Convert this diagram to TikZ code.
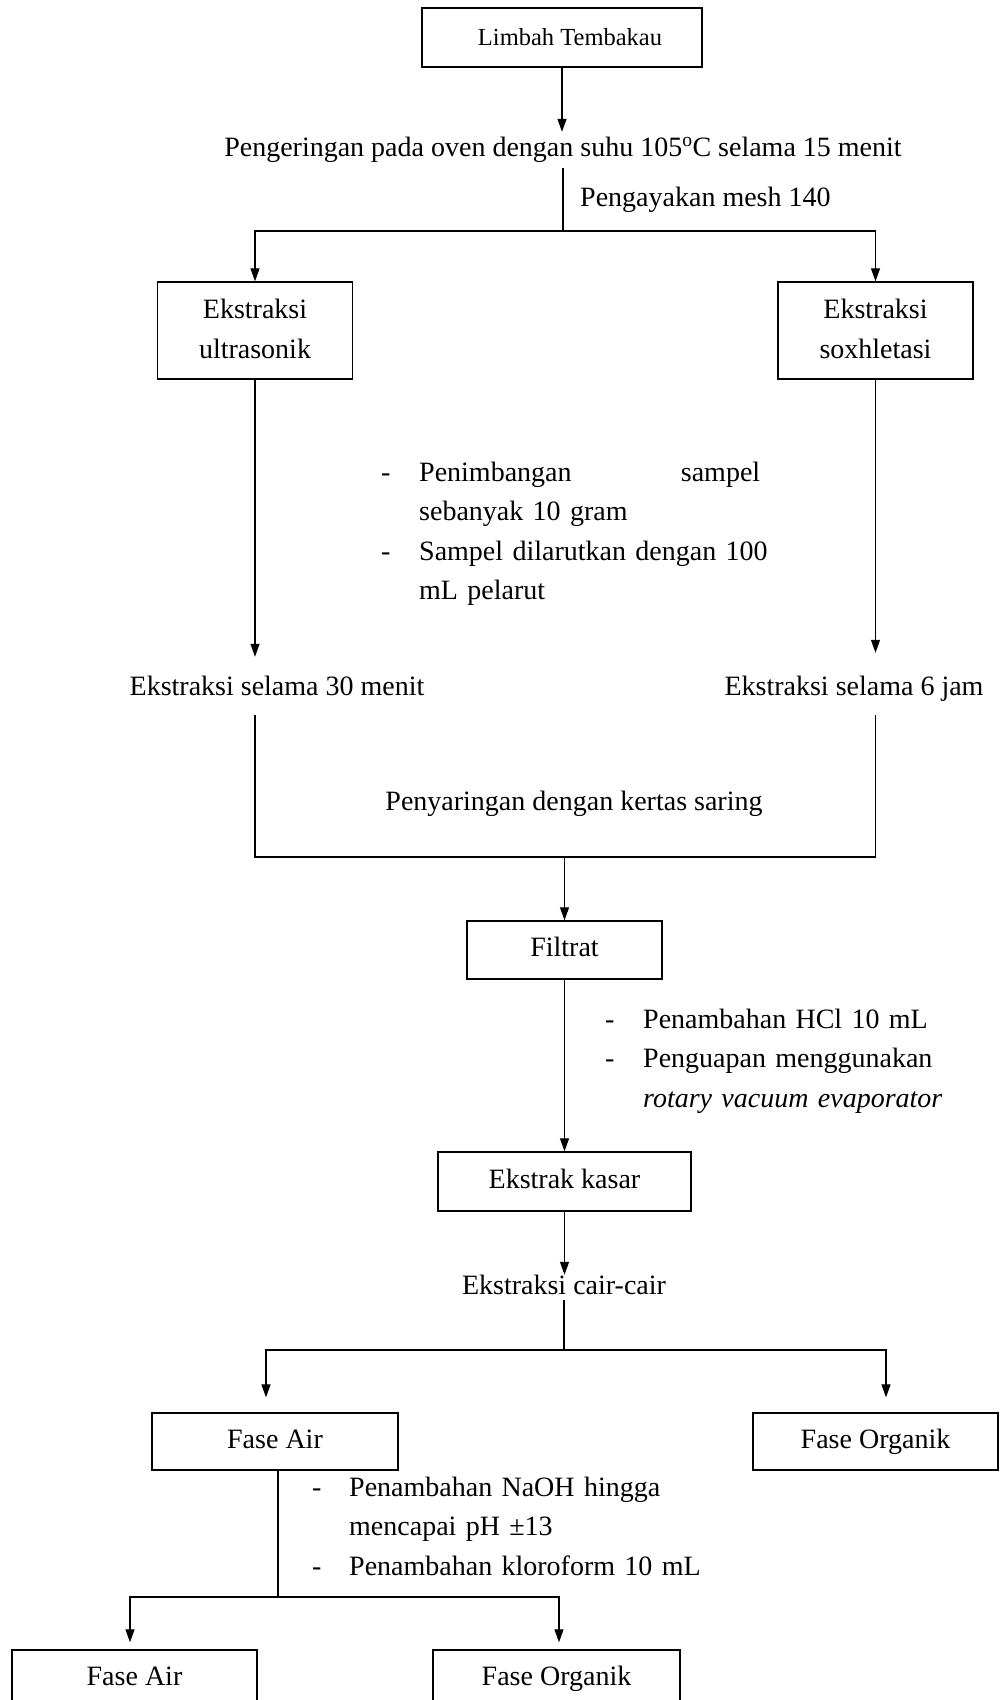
\documentclass[tikz,border=0pt]{standalone}
\usepackage{fontspec}
\setmainfont{Liberation Serif}
\usetikzlibrary{arrows.meta,calc}
\newcommand\mfs{\fontsize{28}{39.5}\selectfont}
\begin{document}
\begin{tikzpicture}[x=1pt,y=-1pt,
  box/.style={draw, line width=1.4pt, inner sep=0pt, font=\mfs, align=center},
  boxs/.style={box, text height=19pt, text depth=6pt},
  lbl/.style={inner sep=0pt, font=\mfs, text height=19pt, text depth=6pt},
  blk/.style={inner sep=0pt, font=\mfs, align=left, anchor=base west},
  ln/.style={line width=1.2pt},
  arr/.style={line width=1.2pt, -{Triangle[length=13pt,width=9pt]}}]
\useasboundingbox (0,0) rectangle (999,1700);
\clip (0,0) rectangle (999,1700);
\fill[white] (0,0) rectangle (999,1700);

% nodes
\node[box, minimum width=280pt, minimum height=59pt, font=\fontsize{24.5}{30}\selectfont] (lim) at (562,37.5) {\hspace*{16pt}Limbah Tembakau};
\node[lbl] (peng) at (563,149.5) {Pengeringan pada oven dengan suhu 105\textsuperscript{o}C selama 15 menit};
\node[lbl, anchor=west] (mesh) at (580,199.5) {Pengayakan mesh 140};
\coordinate (br1) at (563,231);
\node[box, minimum width=195pt, minimum height=97pt] (ultra) at (255,330.5) {\raisebox{3pt}{Ekstraksi}\\\raisebox{3pt}{ultrasonik}};
\node[box, minimum width=195pt, minimum height=97pt] (sox) at (875.5,330.5) {\raisebox{3pt}{Ekstraksi}\\\raisebox{3pt}{soxhletasi}};
\node[blk, text width=400pt] (b1) at (381,481) {\makebox[38pt][l]{-}\makebox[341pt][l]{Penimbangan\hfill sampel}\\\hspace*{38pt}sebanyak 10 gram\\\makebox[38pt][l]{-}Sampel dilarutkan dengan 100\\\hspace*{38pt}mL pelarut};
\node[lbl] (e30) at (277,688.5) {Ekstraksi selama 30 menit};
\node[lbl] (e6) at (854,688.5) {Ekstraksi selama 6 jam};
\node[lbl] (saring) at (574,803.5) {Penyaringan dengan kertas saring};
\coordinate (br2) at (565,857);
\node[boxs, minimum width=195pt, minimum height=58pt] (filt) at (564.5,950) {Filtrat};
\node[blk, text width=400pt] (b2) at (605,1028) {\makebox[38pt][l]{-}Penambahan HCl 10 mL\\\makebox[38pt][l]{-}Penguapan menggunakan\\\hspace*{38pt}\textit{rotary vacuum evaporator}};
\node[boxs, minimum width=253pt, minimum height=59pt] (kasar) at (564.5,1181.5) {Ekstrak kasar};
\node[lbl] (cair) at (564,1287.5) {Ekstraksi cair-cair};
\coordinate (br3) at (564,1350);
\node[boxs, minimum width=246pt, minimum height=57pt] (fair) at (275,1441.5) {Fase Air};
\node[boxs, minimum width=245pt, minimum height=57pt] (forg) at (875.5,1441.5) {Fase Organik};
\node[blk, text width=400pt] (b3) at (312,1496) {\makebox[37pt][l]{-}Penambahan NaOH hingga\\\hspace*{37pt}mencapai pH ±13\\\makebox[37pt][l]{-}Penambahan kloroform 10 mL};
\coordinate (br4) at (278,1597);
\node[boxs, minimum width=245pt, minimum height=57pt] (fair2) at (134.5,1678.5) {Fase Air};
\node[boxs, minimum width=247pt, minimum height=57pt] (forg2) at (556.5,1678.5) {Fase Organik};

% connectors
\draw[arr, shorten >=5pt] (lim.south) -- (lim.south |- peng.north);
\draw[ln] (peng.south -| br1) ++(0,6) -- (br1);
\draw[arr] (br1) -| (ultra.north);
\draw[arr] (br1) -| (sox.north);
\draw[arr, shorten >=19pt] (ultra.south) -- (ultra.south |- e30.north);
\draw[arr, shorten >=23pt] (sox.south) -- (sox.south |- e6.north);
\draw[ln] (ultra.south |- e30.south) ++(0,14) -- (ultra.south |- br2) -- (sox.south |- br2) -- ($(sox.south |- e6.south)+(0,14)$);
\draw[arr] (filt.north |- br2) -- (filt.north);
\draw[arr] (filt.south) -- (kasar.north);
\draw[arr] (kasar.south) -- (kasar.south |- cair.north);
\draw[ln] (cair.south) -- (cair.south |- br3);
\draw[arr, shorten >=15pt] (br3) -| ([xshift=-9pt]fair.north);
\draw[arr, shorten >=15pt] (br3) -| ([xshift=10.5pt]forg.north);
\draw[ln] (br4 |- fair.south) -- (br4);
\draw[arr, shorten >=7pt] (br4) -| ([xshift=-4.5pt]fair2.north);
\draw[arr, shorten >=7pt] (br4) -| ([xshift=2.5pt]forg2.north);
\end{tikzpicture}
\end{document}
